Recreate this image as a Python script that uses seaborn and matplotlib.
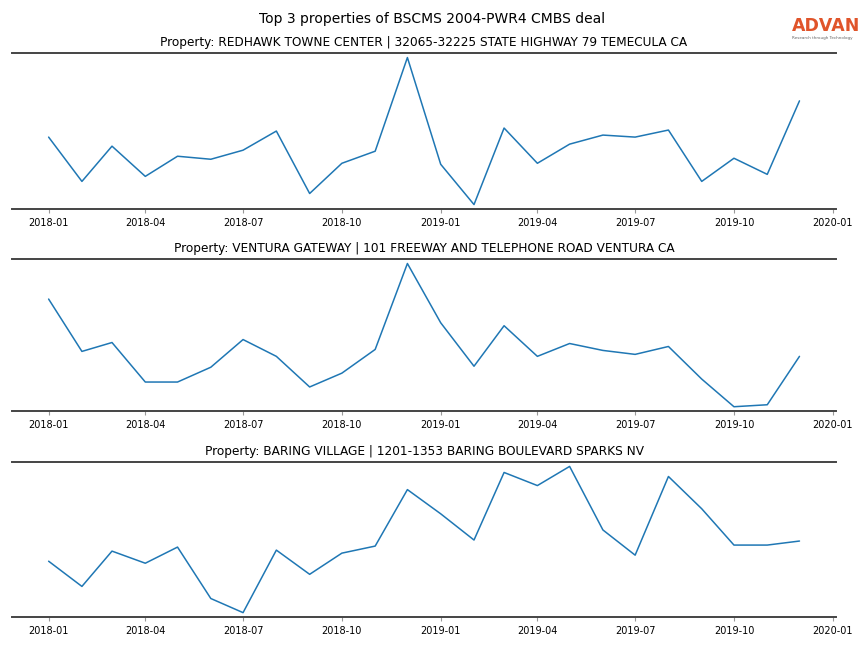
import pandas as pd
import numpy as np
import matplotlib
matplotlib.use("Agg")
import matplotlib.pyplot as plt
import matplotlib.dates as mdates
import seaborn as sns

months = pd.date_range("2018-01-01", "2019-12-01", freq="MS")

titles = [
    "Property: REDHAWK TOWNE CENTER | 32065-32225 STATE HIGHWAY 79 TEMECULA CA",
    "Property: VENTURA GATEWAY | 101 FREEWAY AND TELEPHONE ROAD VENTURA CA",
    "Property: BARING VILLAGE | 1201-1353 BARING BOULEVARD SPARKS NV",
]

# visits (arbitrary units)
redhawk = [73, 29, 64, 34, 54, 51, 60, 79, 17, 47, 59, 152, 46, 6, 82, 47, 66, 75, 73, 80, 29, 52, 36, 109]
ventura = [111, 58, 67, 27, 27, 42, 70, 53, 22, 36, 60, 147, 87, 43, 84, 53, 66, 59, 55, 63, 30, 2, 4, 53]
baring = [56, 31, 66, 54, 70, 19, 5, 67, 43, 64, 71, 127, 103, 77, 144, 131, 150, 87, 62, 140, 108, 72, 72, 76]

series = [redhawk, ventura, baring]

sns.set_style("white")
plt.rcParams["font.family"] = ["DejaVu Sans"]
plt.rcParams["text.color"] = "black"
plt.rcParams["xtick.color"] = "black"
fig = plt.figure(figsize=(8.64, 6.48), dpi=100)

boxes = [(0.918, 0.6775), (0.600, 0.3657), (0.287, 0.0478)]
for (top, bottom), title, vals in zip(boxes, titles, series):
    ax = fig.add_axes([0.014, bottom, 0.9676 - 0.014, top - bottom])
    df = pd.DataFrame({"month": months, "visits": vals})
    sns.lineplot(data=df, x="month", y="visits", ax=ax, color="#1f77b4", linewidth=1.1)
    ax.set_xlim(pd.Timestamp("2017-11-28"), pd.Timestamp("2020-01-04"))
    ax.margins(y=0.03)
    ax.xaxis.set_major_locator(mdates.MonthLocator(bymonth=[1, 4, 7, 10]))
    ax.xaxis.set_major_formatter(mdates.DateFormatter("%Y-%m"))
    ax.set_yticks([])
    ax.set_xlabel("")
    ax.set_ylabel("")
    ax.set_title(title, fontsize=8.7, pad=5, color="black")
    for s in ["left", "right"]:
        ax.spines[s].set_visible(False)
    for s in ["top", "bottom"]:
        ax.spines[s].set_color("#444444")
        ax.spines[s].set_linewidth(1.4)
    ax.tick_params(axis="x", labelsize=7, length=3, color="#999999", labelcolor="black", bottom=True)

fig.suptitle("Top 3 properties of BSCMS 2004-PWR4 CMBS deal", fontsize=10, y=0.981, color="black")
fig.text(0.9165, 0.9465, "ADVAN", fontsize=12.5, fontweight="bold", color="#E0542A", ha="left", va="bottom")
fig.text(0.9165, 0.938, "Research through Technology", fontsize=3, color="#666666", ha="left", va="bottom")

fig.savefig("out.png", dpi=100)
